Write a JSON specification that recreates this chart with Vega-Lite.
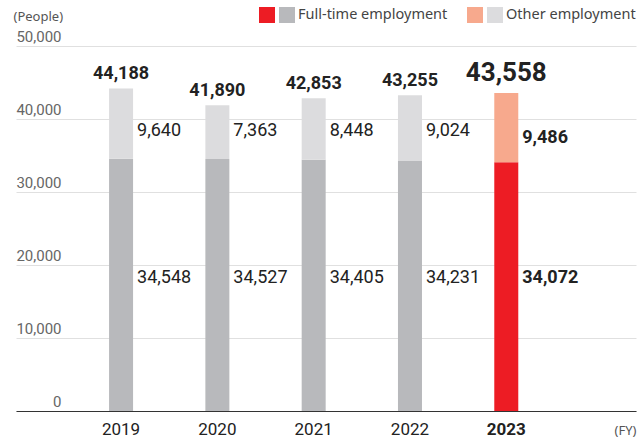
{
  "$schema": "https://vega.github.io/schema/vega-lite/v6.json",
  "width": 620,
  "height": 365,
  "autosize": "none",
  "padding": {"left": 16, "top": 46, "right": 2, "bottom": 26},
  "background": "white",
  "config": {
    "view": {"stroke": null},
    "font": "Roboto"
  },
  "data": {
    "values": [
      {"year": "2019", "type": "full", "key": "full", "value": 34548},
      {"year": "2019", "type": "other", "key": "other", "value": 9640},
      {"year": "2020", "type": "full", "key": "full", "value": 34527},
      {"year": "2020", "type": "other", "key": "other", "value": 7363},
      {"year": "2021", "type": "full", "key": "full", "value": 34405},
      {"year": "2021", "type": "other", "key": "other", "value": 8448},
      {"year": "2022", "type": "full", "key": "full", "value": 34231},
      {"year": "2022", "type": "other", "key": "other", "value": 9024},
      {"year": "2023", "type": "full", "key": "full23", "value": 34072},
      {"year": "2023", "type": "other", "key": "other23", "value": 9486}
    ]
  },
  "encoding": {
    "x": {
      "field": "year",
      "type": "nominal",
      "scale": {"domain": ["2019", "2020", "2021", "2022", "2023"], "paddingInner": 0.562, "paddingOuter": 1, "align": 0.436},
      "axis": {
        "title": "(FY)",
        "titleFont": "Noto Sans",
        "titleFontSize": 13,
        "titleFontWeight": "normal",
        "titleColor": "#555",
        "titleAngle": 0,
        "titleAlign": "right",
        "titleBaseline": "alphabetic",
        "titleX": 620,
        "titleY": 23,
        "labelAngle": 0,
        "labelFont": "Roboto",
        "labelFontSize": 17,
        "labelColor": "#222",
        "labelFontWeight": {"condition": {"test": "datum.value === '2023'", "value": "bold"}, "value": "normal"},
        "labelBaseline": "alphabetic",
        "labelPadding": 23,
        "ticks": false,
        "tickSize": 0,
        "domainColor": "#333",
        "domainWidth": 1.2,
        "grid": false
      }
    }
  },
  "layer": [
    {
      "mark": {"type": "bar", "width": 24},
      "encoding": {
        "y": {
          "field": "value",
          "type": "quantitative",
          "stack": "zero",
          "scale": {"domain": [0, 50000], "nice": false},
          "axis": {
            "values": [0, 10000, 20000, 30000, 40000, 50000],
            "format": ",d",
            "title": "(People)",
            "titleFont": "Noto Sans",
            "titleFontSize": 13,
            "titleFontWeight": "normal",
            "titleColor": "#555",
            "titleAngle": 0,
            "titleAlign": "left",
            "titleBaseline": "alphabetic",
            "titleX": -3,
            "titleY": -26,
            "labelFont": "Roboto",
            "labelFontSize": 15,
            "labelColor": "#666",
            "labelAlign": "right",
            "labelBaseline": "alphabetic",
            "labelPadding": -45,
            "labelOffset": -5,
            "ticks": false,
            "tickSize": 0,
            "domain": false,
            "grid": true,
            "gridColor": "#e0e0e0",
            "gridWidth": 1
          }
        },
        "color": {
          "field": "key",
          "type": "nominal",
          "scale": {"domain": ["full23", "full", "other23", "other"], "range": ["#ed1c24", "#b8b9bc", "#f7a98d", "#dcdcde"]},
          "legend": {
            "title": null,
            "orient": "none",
            "legendX": 243,
            "legendY": -39,
            "direction": "horizontal",
            "columns": 4,
            "gridAlign": "each",
            "columnPadding": 1,
            "padding": 0,
            "symbolType": "square",
            "symbolSize": 256,
            "symbolStrokeWidth": 0,
            "symbolOpacity": 1,
            "labelOffset": 3,
            "labelLimit": 400,
            "labelFont": "Noto Sans",
            "labelFontSize": 14.5,
            "labelColor": "#444",
            "labelExpr": "datum.value == 'full' ? 'Full-time employment\u2002\u2800' : (datum.value == 'other' ? 'Other employment' : '')"
          }
        },
        "order": {"field": "type", "sort": "ascending"}
      }
    },
    {
      "transform": [
        {"aggregate": [{"op": "sum", "field": "value", "as": "total"}], "groupby": ["year"]},
        {"filter": "datum.year != '2023'"}
      ],
      "mark": {"type": "text", "font": "Roboto", "fontSize": 18, "fontWeight": "bold", "color": "#222", "baseline": "alphabetic", "dy": -9},
      "encoding": {
        "y": {"field": "total", "type": "quantitative"},
        "text": {"field": "total", "type": "quantitative", "format": ","}
      }
    },
    {
      "transform": [
        {"aggregate": [{"op": "sum", "field": "value", "as": "total"}], "groupby": ["year"]},
        {"filter": "datum.year == '2023'"}
      ],
      "mark": {"type": "text", "font": "Roboto", "fontSize": 26, "fontWeight": "bold", "color": "#222", "baseline": "alphabetic", "dy": -12},
      "encoding": {
        "y": {"field": "total", "type": "quantitative"},
        "text": {"field": "total", "type": "quantitative", "format": ","}
      }
    },
    {
      "transform": [{"filter": "datum.type == 'other' && datum.year != '2023'"}],
      "mark": {"type": "text", "font": "Roboto", "fontSize": 18, "color": "#222", "align": "left", "baseline": "alphabetic", "dx": 16},
      "encoding": {
        "y": {"datum": 37700},
        "text": {"field": "value", "type": "quantitative", "format": ","}
      }
    },
    {
      "transform": [{"filter": "datum.type == 'full' && datum.year != '2023'"}],
      "mark": {"type": "text", "font": "Roboto", "fontSize": 18, "color": "#222", "align": "left", "baseline": "alphabetic", "dx": 16},
      "encoding": {
        "y": {"datum": 17600},
        "text": {"field": "value", "type": "quantitative", "format": ","}
      }
    },
    {
      "transform": [{"filter": "datum.type == 'other' && datum.year == '2023'"}],
      "mark": {"type": "text", "font": "Roboto", "fontSize": 18, "fontWeight": "bold", "color": "#222", "align": "left", "baseline": "alphabetic", "dx": 16},
      "encoding": {
        "y": {"datum": 36700},
        "text": {"field": "value", "type": "quantitative", "format": ","}
      }
    },
    {
      "transform": [{"filter": "datum.type == 'full' && datum.year == '2023'"}],
      "mark": {"type": "text", "font": "Roboto", "fontSize": 18, "fontWeight": "bold", "color": "#222", "align": "left", "baseline": "alphabetic", "dx": 16},
      "encoding": {
        "y": {"datum": 17500},
        "text": {"field": "value", "type": "quantitative", "format": ","}
      }
    }
  ]
}
